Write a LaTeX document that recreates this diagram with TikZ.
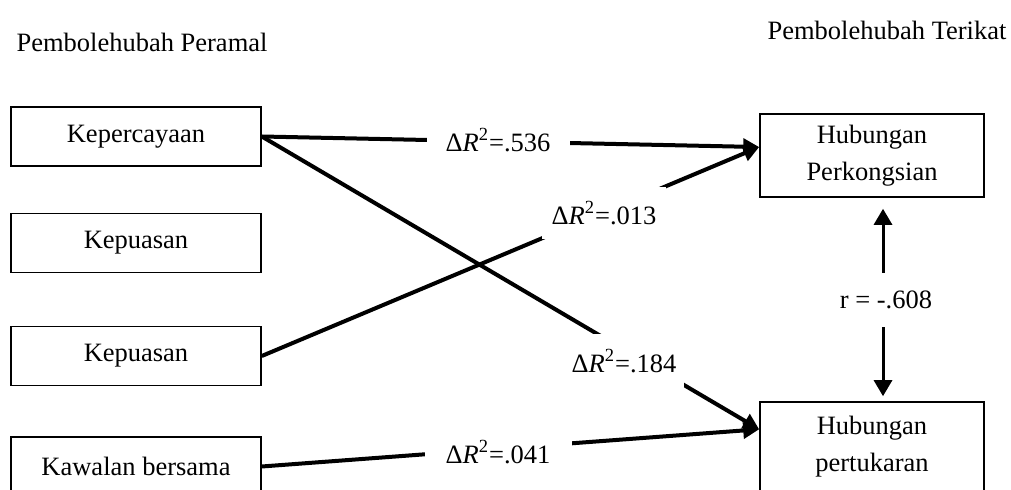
\documentclass[tikz,border=0pt]{standalone}
\usepackage{fontspec}
\setmainfont{Liberation Serif}
\usetikzlibrary{arrows.meta,calc}
\begin{document}
\begin{tikzpicture}[x=0.5pt,y=-0.5pt,
  font=\fontsize{13.25}{18.5}\selectfont,
  box/.style={draw,line width=0.8pt,minimum width=125pt,minimum height=29.5pt,inner sep=0pt,align=center},
  dbox/.style={draw,line width=0.8pt,minimum width=112pt,inner sep=0pt,align=center},
  conn/.style={line width=2pt,-{Triangle[length=8pt,width=8pt]}},
  corr/.style={line width=1.5pt,{Triangle[length=8pt,width=9pt]}-{Triangle[length=8pt,width=9pt]}},
  lab/.style={fill=white,inner sep=0pt},
  title/.style={inner sep=0pt}
]
\useasboundingbox (0,0) rectangle (1011,490);
% titles
\node[title] (t1) at (142,42) {Pembolehubah Peramal};
\node[title] (t2) at (887,30) {Pembolehubah Terikat};
% predictor boxes
\node[box] (k1) at (136,136.5) {Kepercayaan};
\node[box] (k2) at (136,243) {Kepuasan};
\node[box] (k3) at (136,356) {Kepuasan};
\node[box] (k4) at (136,466.5) {Kawalan bersama};
% dependent boxes
\node[dbox,minimum height=41.5pt] (hp) at (872,155.5) {Hubungan\\Perkongsian};
\node[dbox,minimum height=44.5pt] (ht) at (872,446.5) {Hubungan\\pertukaran};
% connectors
\draw[conn] (k1.east) -- ($(hp.north west)!0.4!(hp.south west)$);
\draw[conn] (k3.east) -- ($(hp.north west)!0.4!(hp.south west)$);
\draw[conn] (k1.east) -- ($(ht.north west)!0.31!(ht.south west)$);
\draw[conn] (k4.east) -- ($(ht.north west)!0.31!(ht.south west)$);
% labels (opaque)
\node[lab,minimum width=71.5pt,minimum height=20pt] (l1) at (498,140) {Δ\textit{R}\textsuperscript{2}=.536};
\node[lab,minimum width=62pt,minimum height=26pt] (l2) at (604,213) {Δ\textit{R}\textsuperscript{2}=.013};
\node[lab,minimum width=60pt,minimum height=27pt] (l3) at (624,361) {Δ\textit{R}\textsuperscript{2}=.184};
\node[lab,minimum width=73.5pt,minimum height=20pt] (l4) at (498,452) {Δ\textit{R}\textsuperscript{2}=.041};
% correlation
\coordinate (rc) at (883,300);
\draw[corr,shorten <=5.5pt,shorten >=2.5pt] (rc |- hp.south) -- (rc |- ht.north);
\node[lab,minimum width=50pt,minimum height=27pt] (lr) at (886,300) {r = -.608};
\end{tikzpicture}
\end{document}
